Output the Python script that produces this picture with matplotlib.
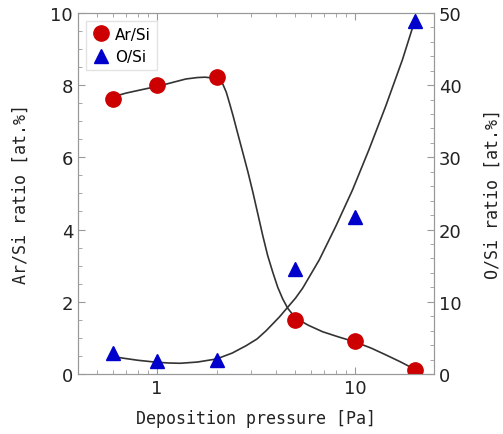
import matplotlib.pyplot as plt
from matplotlib.ticker import MultipleLocator, LogLocator, NullFormatter

pressure = [0.6, 1, 2, 5, 10, 20]
ar_si = [7.62, 8.0, 8.22, 1.5, 0.91, 0.12]
o_si = [2.9, 1.75, 1.94, 14.5, 21.7, 48.9]

# guide curves
ar_curve_x = [0.63, 0.7, 0.8, 0.9, 1.0, 1.1, 1.25, 1.4, 1.6, 1.75, 1.9, 2.0, 2.07, 2.15,
              2.24, 2.33, 2.42, 2.56, 2.71, 2.88, 3.05, 3.23, 3.42, 3.62, 3.84, 4.07,
              4.31, 4.57, 5.0, 5.8, 6.85, 8.2, 9.89, 12.0, 14.26, 17.0, 19.8]
ar_curve_y = [7.71, 7.78, 7.85, 7.91, 7.96, 8.02, 8.1, 8.17, 8.21, 8.22, 8.2, 8.17, 8.12, 8.03,
              7.8, 7.48, 7.16, 6.65, 6.14, 5.59, 5.03, 4.43, 3.83, 3.28, 2.82, 2.4,
              2.08, 1.82, 1.55, 1.35, 1.17, 1.03, 0.895, 0.72, 0.53, 0.33, 0.14]
o_curve_x = [0.63, 0.8, 1.0, 1.15, 1.31, 1.6, 2.0, 2.4, 2.82, 3.2, 3.56, 4.15, 4.49,
             5.0, 5.44, 6.59, 8.0, 9.7, 11.75, 14.26, 17.3, 19.8]
o_curve_y = [2.31, 1.9, 1.62, 1.52, 1.48, 1.65, 2.08, 2.9, 3.92, 4.85, 6.0, 7.9, 9.0,
             10.5, 11.9, 15.8, 20.5, 25.5, 31.1, 37.1, 43.5, 48.6]

fig = plt.figure(figsize=(5.03, 4.35), dpi=100)
ax = fig.add_axes([0.155, 0.138, 0.708, 0.830])
ax2 = ax.twinx()

ax.plot(ar_curve_x, ar_curve_y, color='#333333', lw=1.2, zorder=2)
ax2.plot(o_curve_x, o_curve_y, color='#333333', lw=1.2, zorder=2)
ax.plot(pressure, ar_si, 'o', color='#cc0000', ms=11, label='Ar/Si', zorder=3)
ax2.plot(pressure, o_si, '^', color='#0000cc', ms=10, label='O/Si', zorder=3)

ax.set_xscale('log')
ax.set_xlim(0.4, 25)
ax.set_ylim(0, 10)
ax2.set_ylim(0, 50)
ax.set_xticks([1, 10])
ax.set_xticklabels(['1', '10'])
ax.xaxis.set_minor_locator(LogLocator(subs=range(2, 10)))
ax.xaxis.set_minor_formatter(NullFormatter())
ax.yaxis.set_major_locator(MultipleLocator(2))
ax.yaxis.set_minor_locator(MultipleLocator(0.5))
ax2.yaxis.set_major_locator(MultipleLocator(10))
ax2.yaxis.set_minor_locator(MultipleLocator(2))

for a in (ax, ax2):
    for s in a.spines.values():
        s.set_color('#999999')
ax.tick_params(which='both', direction='in', top=True, colors='#999999', labelcolor='#222222', labelsize=13)
ax.tick_params(which='major', length=5)
ax.tick_params(which='minor', length=3)
ax2.tick_params(which='both', direction='in', colors='#999999', labelcolor='#222222', labelsize=13)
ax2.tick_params(which='major', length=5)
ax2.tick_params(which='minor', length=3)

lab = dict(family='DejaVu Sans Mono', fontsize=12, color='#222222')
ax.set_xlabel('Deposition pressure [Pa]', labelpad=9, **lab)
ax.set_ylabel('Ar/Si ratio [at.%]', labelpad=15, **lab)
ax2.set_ylabel('O/Si ratio [at.%]', labelpad=16, **lab)

h1, l1 = ax.get_legend_handles_labels()
h2, l2 = ax2.get_legend_handles_labels()
leg = ax2.legend(h1 + h2, l1 + l2, loc='upper left', fontsize=11, frameon=True,
                 fancybox=False, edgecolor='#dddddd', handletextpad=0.3,
                 borderaxespad=0.5, handlelength=1.2)

fig.savefig('out.png', dpi=100)
